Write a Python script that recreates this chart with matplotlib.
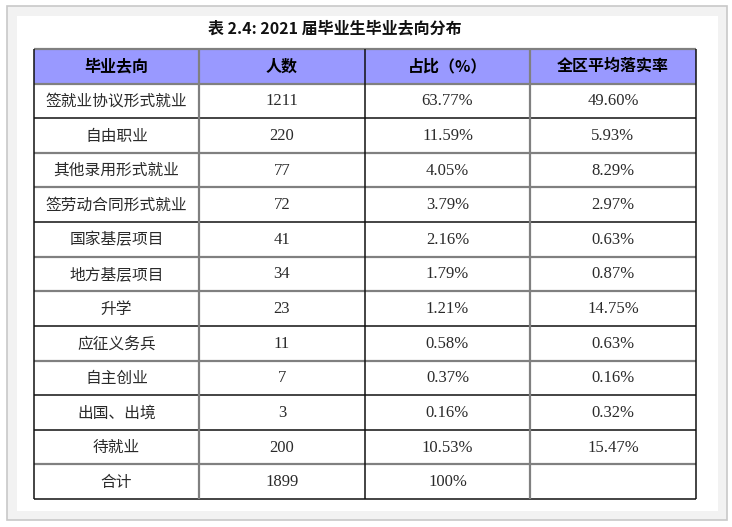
import matplotlib.pyplot as plt
from matplotlib.patches import Rectangle

# table content
headers = ["毕业去向", "人数", "占比（%）", "全区平均落实率"]
destinations = ["签就业协议形式就业", "自由职业", "其他录用形式就业", "签劳动合同形式就业",
                "国家基层项目", "地方基层项目", "升学", "应征义务兵", "自主创业",
                "出国、出境", "待就业", "合计"]
counts = [1211, 220, 77, 72, 41, 34, 23, 11, 7, 3, 200, 1899]
shares = ["63.77%", "11.59%", "4.05%", "3.79%", "2.16%", "1.79%", "1.21%",
          "0.58%", "0.37%", "0.16%", "10.53%", "100%"]
region_rates = ["49.60%", "5.93%", "8.29%", "2.97%", "0.63%", "0.87%", "14.75%",
                "0.63%", "0.16%", "0.32%", "15.47%", ""]
title = "表 2.4: 2021 届毕业生毕业去向分布"

W, H = 732, 527
fig = plt.figure(figsize=(W / 100, H / 100), dpi=100)
ax = fig.add_axes([0, 0, 1, 1])
ax.set_xlim(0, W)
ax.set_ylim(H, 0)
ax.axis("off")

# page frame
ax.add_patch(Rectangle((7, 6), 720, 514, facecolor="#f2f2f2", edgecolor="#c8c8c8", lw=1.2))
ax.add_patch(Rectangle((17, 16), 701, 495, facecolor="white", edgecolor="none"))

cjk = ["Noto Sans CJK SC", "DejaVu Sans"]
num = ["Liberation Serif", "DejaVu Serif"]

ax.text(335, 28, title, ha="center", va="center", fontsize=11.5, fontweight="bold",
        family=cjk, color="#111111")

col_edges = [34, 199, 365, 530, 696]
top, bottom = 49, 499
n_rows = len(destinations) + 1
row_h = (bottom - top) / n_rows
row_edges = [top + i * row_h for i in range(n_rows + 1)]

# header fill
ax.add_patch(Rectangle((col_edges[0], row_edges[0]), col_edges[-1] - col_edges[0], row_h,
                       facecolor="#9999ff", edgecolor="none"))

for j, h in enumerate(headers):
    xc = (col_edges[j] + col_edges[j + 1]) / 2
    ax.text(xc, row_edges[0] + row_h / 2, h, ha="center", va="center", fontsize=11.5,
            fontweight="bold", family=cjk, color="#000000")

for i in range(len(destinations)):
    yc = row_edges[i + 1] + row_h / 2 + 0.5
    cells = [destinations[i], str(counts[i]), shares[i], region_rates[i]]
    for j, c in enumerate(cells):
        xc = (col_edges[j] + col_edges[j + 1]) / 2
        if j == 0:
            ax.text(xc, yc, c, ha="center", va="center", fontsize=11.3, family=cjk,
                    color="#2a2a2a")
        else:
            ax.text(xc, yc, c, ha="center", va="center", fontsize=12, family=num,
                    color="#2a2a2a")

# grid lines (scanned look: alternating dark / grey rules)
h_styles = ["g", "g", "k", "g", "g", "k", "g", "g", "k", "g", "k", "k", "g", "k"]
for y, s in zip(row_edges, h_styles):
    if s == "k":
        ax.plot([col_edges[0], col_edges[-1]], [y, y], color="#111111", lw=1.1,
                solid_capstyle="butt")
    else:
        ax.plot([col_edges[0], col_edges[-1]], [y, y], color="#808080", lw=1.6,
                solid_capstyle="butt")
v_styles = ["k", "g", "k", "g", "k"]
for x, s in zip(col_edges, v_styles):
    if s == "k":
        ax.plot([x, x], [top, bottom], color="#111111", lw=1.1, solid_capstyle="butt")
    else:
        ax.plot([x, x], [top, bottom], color="#808080", lw=1.6, solid_capstyle="butt")

fig.savefig("out.png", dpi=100)
